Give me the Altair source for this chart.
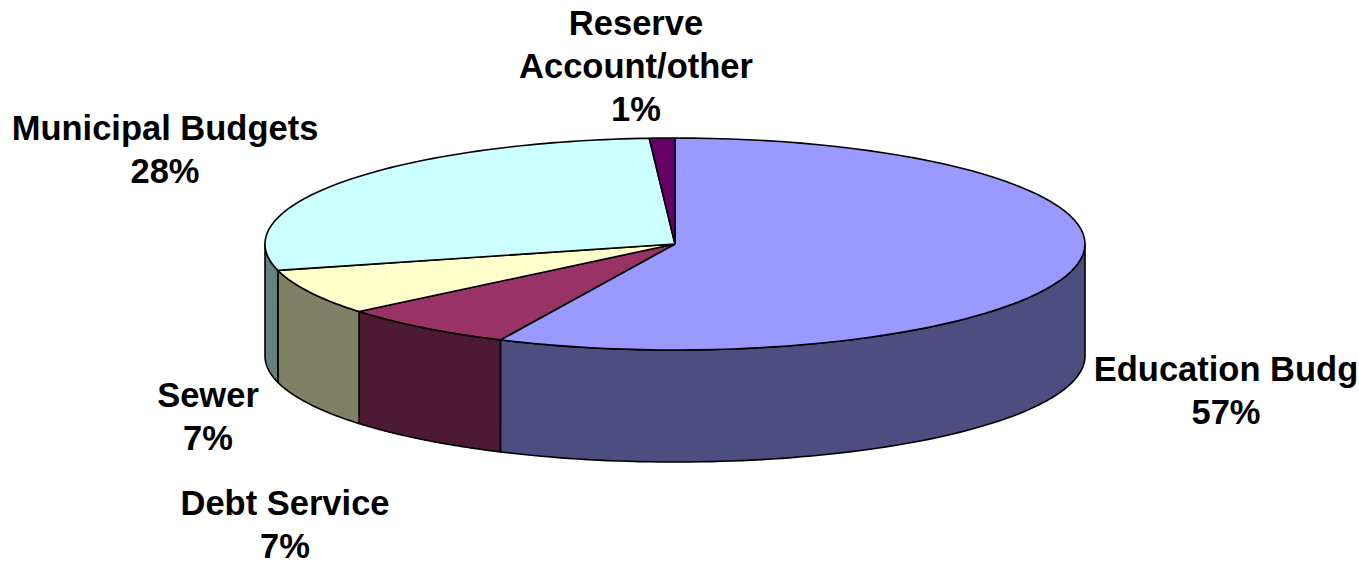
import altair as alt
import pandas as pd

# ---- data ----
categories = ["Education Budg", "Debt Service", "Sewer", "Municipal Budgets", "Reserve\nAccount/other"]
values = [57, 7, 7, 28, 1]
top_colors = ["#9999FF", "#993366", "#FFFFCC", "#CCFFFF", "#660066"]
side_colors = ["#4D4D80", "#4D1A33", "#808066", "#668080", "#330033"]

# ---- layout (pixels) ----
W, H = 1359, 565
CX, CY, RX, RY, DEPTH = 675, 244, 410, 106, 112
N = 80
label_x = [1226, 285, 208, 165, 636]
label_y = [381, 515, 407, 140, 35]

df = pd.DataFrame({
    "cat": categories,
    "value": values,
    "top": top_colors,
    "side": side_colors,
    "idx": list(range(len(values))),
})

base = alt.Chart(df).transform_window(
    cum="sum(value)", sort=[alt.SortField("idx")], frame=[None, 0]
).transform_joinaggregate(
    total="sum(value)"
).transform_calculate(
    a0="(datum.cum - datum.value) / datum.total * 2 * PI",
    a1="datum.cum / datum.total * 2 * PI",
)

xs = alt.X("px:Q", scale=alt.Scale(domain=[0, W], range=[0, W]), axis=None)
ys = alt.Y("py:Q", scale=alt.Scale(domain=[0, H], range=[0, H]), axis=None)

sides = base.transform_calculate(
    s0="max(datum.a0, PI / 2)",
    s1="min(datum.a1, 3 * PI / 2)",
).transform_filter(
    "datum.s1 > datum.s0"
).transform_calculate(
    ks=f"sequence(0, {2 * N + 3})"
).transform_flatten(
    ["ks"]
).transform_calculate(
    t=f"datum.ks <= {N} ? datum.s0 + (datum.s1 - datum.s0) * datum.ks / {N} : "
      f"(datum.ks <= {2 * N + 1} ? datum.s1 - (datum.s1 - datum.s0) * (datum.ks - {N + 1}) / {N} : datum.s0)",
    dep=f"(datum.ks > {N} && datum.ks <= {2 * N + 1}) ? {DEPTH} : 0",
).transform_calculate(
    px=f"{CX} + {RX} * sin(datum.t)",
    py=f"{CY} - {RY} * cos(datum.t) + datum.dep",
).mark_line(stroke="black", strokeWidth=1.6, interpolate="linear", strokeJoin="round").encode(
    x=xs, y=ys,
    fill=alt.Fill("side:N", scale=None),
    detail="cat:N",
    order=alt.Order("ks:Q"),
)

tops = base.transform_calculate(
    ks=f"sequence(0, {N + 3})"
).transform_flatten(
    ["ks"]
).transform_calculate(
    t=f"datum.a0 + (datum.a1 - datum.a0) * (datum.ks - 1) / {N}",
    ctr=f"datum.ks == 0 || datum.ks == {N + 2}",
).transform_calculate(
    px=f"datum.ctr ? {CX} : {CX} + {RX} * sin(datum.t)",
    py=f"datum.ctr ? {CY} : {CY} - {RY} * cos(datum.t)",
).mark_line(stroke="black", strokeWidth=1.6, interpolate="linear", strokeJoin="round").encode(
    x=xs, y=ys,
    fill=alt.Fill("top:N", scale=None),
    detail="cat:N",
    order=alt.Order("ks:Q"),
)

lab_df = pd.DataFrame({
    "label": [f"{c}\n{v}%" for c, v in zip(categories, values)],
    "lx": label_x,
    "ly": label_y,
})
labels = alt.Chart(lab_df).mark_text(
    font="Liberation Sans", fontWeight="bold", fontSize=34.5, align="center",
    baseline="alphabetic", lineBreak="\n", lineHeight=43, color="black",
).encode(
    x=alt.X("lx:Q", scale=alt.Scale(domain=[0, W], range=[0, W]), axis=None),
    y=alt.Y("ly:Q", scale=alt.Scale(domain=[0, H], range=[0, H]), axis=None),
    text="label:N",
)

chart = alt.layer(sides, tops, labels).properties(
    width=W, height=H, padding=0, autosize=alt.AutoSizeParams(type="none"),
    background="white",
).configure_view(stroke=None)

chart.save("out.html", embed_options={"renderer": "svg", "actions": False})
